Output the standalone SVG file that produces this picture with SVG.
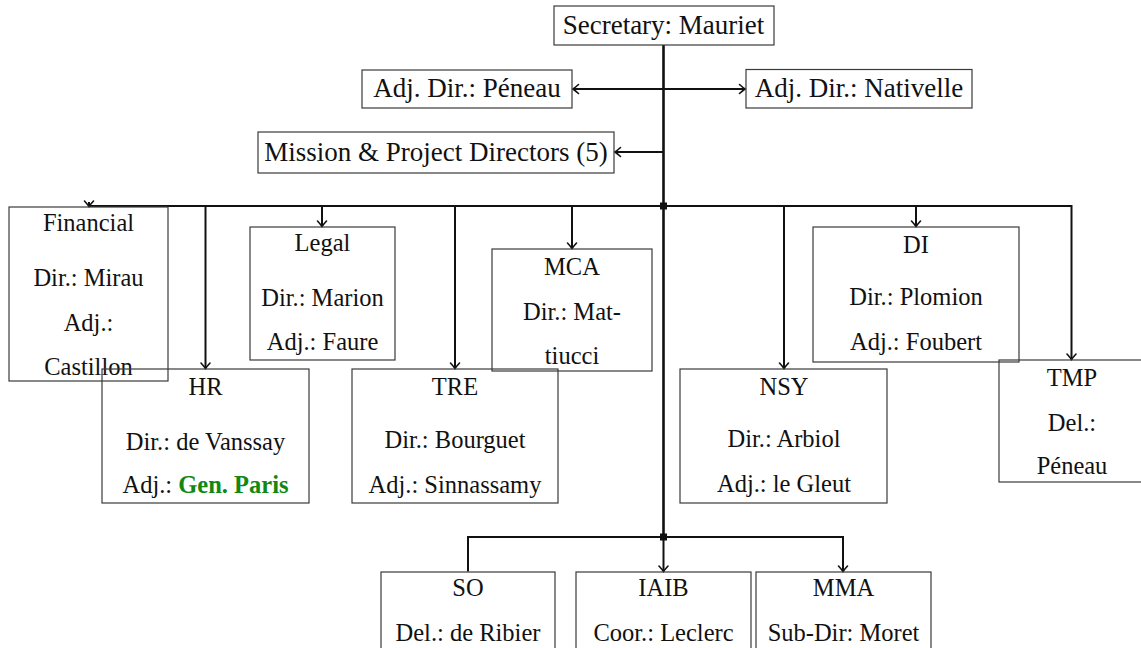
<svg xmlns="http://www.w3.org/2000/svg" width="1141" height="648" viewBox="0 0 1141 648">
  <style>
    .box { fill: none; stroke: #3a3a3a; stroke-width: 1.2; }
    .lbl { font-family: "Liberation Serif", "Times New Roman", serif; font-size: 24.5px; fill: #111; text-anchor: middle; }
    .top { font-size: 27px; }
    .wire { fill: none; stroke: #111; stroke-width: 2; }
    .trunk { fill: none; stroke: #111; stroke-width: 2.6; }
    .hl { fill: #118811; font-weight: bold; }
  </style>
  <defs>
    <marker id="tip" viewBox="-7 -6 9 12" refX="0" refY="0" markerWidth="9" markerHeight="12" markerUnits="userSpaceOnUse" orient="auto-start-reverse">
      <path d="M-5.5,-4.5 Q-1.8,-1.2 0,0 Q-1.8,1.2 -5.5,4.5" fill="none" stroke="#111" stroke-width="1.6" stroke-linecap="round"/>
    </marker>
  </defs>

  <!-- connectors -->
  <g id="connectors">
    <path class="trunk" d="M663.5,45 V537"/>
    <path class="wire" d="M573,89 H745" marker-start="url(#tip)" marker-end="url(#tip)"/>
    <path class="wire" d="M663.5,152 H615" marker-end="url(#tip)"/>
    <path class="wire" d="M89,206 H1071.5 V359.5" marker-end="url(#tip)"/>
    <path class="wire" d="M89,202 V206.5" marker-end="url(#tip)"/>
    <path class="wire" d="M205.5,206 V368.5" marker-end="url(#tip)"/>
    <path class="wire" d="M322,206 V226.5" marker-end="url(#tip)"/>
    <path class="wire" d="M455,206 V368.5" marker-end="url(#tip)"/>
    <path class="wire" d="M572,206 V248.5" marker-end="url(#tip)"/>
    <path class="wire" d="M784,206 V368.5" marker-end="url(#tip)"/>
    <path class="wire" d="M916,206 V226.5" marker-end="url(#tip)"/>
    <path class="wire" d="M468,571.5 V537 H843 V571.5" marker-end="url(#tip)"/>
    <path class="wire" d="M663.5,537 V571.5" marker-end="url(#tip)"/>
    <rect x="660" y="202.5" width="7" height="7" fill="#111"/>
    <rect x="660" y="533.5" width="7" height="7" fill="#111"/>
  </g>

  <g id="secretary">
    <rect class="box" x="554" y="6" width="220" height="39"/>
    <text class="lbl top" x="663.5" y="34">Secretary: Mauriet</text>
  </g>

  <g id="adj-peneau">
    <rect class="box" x="362" y="70" width="210" height="38"/>
    <text class="lbl top" x="467" y="97">Adj. Dir.: Péneau</text>
  </g>

  <g id="adj-nativelle">
    <rect class="box" x="746" y="69.5" width="226" height="38.5"/>
    <text class="lbl top" x="859" y="97">Adj. Dir.: Nativelle</text>
  </g>

  <g id="mission">
    <rect class="box" x="258" y="132" width="356" height="41"/>
    <text class="lbl top" x="436" y="161">Mission &amp; Project Directors (5)</text>
  </g>

  <g id="financial">
    <rect class="box" x="9" y="207" width="159" height="174"/>
    <text class="lbl" x="88.5" y="231">Financial</text>
    <text class="lbl" x="88.5" y="286">Dir.: Mirau</text>
    <text class="lbl" x="88.5" y="331">Adj.:</text>
    <text class="lbl" x="88.5" y="375">Castillon</text>
  </g>

  <g id="legal">
    <rect class="box" x="250" y="227" width="145" height="133"/>
    <text class="lbl" x="322.5" y="251">Legal</text>
    <text class="lbl" x="322.5" y="306">Dir.: Marion</text>
    <text class="lbl" x="322.5" y="350">Adj.: Faure</text>
  </g>

  <g id="mca">
    <rect class="box" x="492" y="249" width="160" height="122"/>
    <text class="lbl" x="572" y="275">MCA</text>
    <text class="lbl" x="572" y="320">Dir.: Mat-</text>
    <text class="lbl" x="572" y="364">tiucci</text>
  </g>

  <g id="di">
    <rect class="box" x="813" y="227" width="206" height="135"/>
    <text class="lbl" x="916" y="253">DI</text>
    <text class="lbl" x="916" y="305">Dir.: Plomion</text>
    <text class="lbl" x="916" y="350">Adj.: Foubert</text>
  </g>

  <g id="hr">
    <rect class="box" x="102" y="369" width="207" height="134"/>
    <text class="lbl" x="205.5" y="395">HR</text>
    <text class="lbl" x="205.5" y="450">Dir.: de Vanssay</text>
    <text class="lbl" x="205.5" y="493">Adj.: <tspan class="hl">Gen. Paris</tspan></text>
  </g>

  <g id="tre">
    <rect class="box" x="352" y="369" width="206" height="134"/>
    <text class="lbl" x="455" y="395">TRE</text>
    <text class="lbl" x="455" y="448">Dir.: Bourguet</text>
    <text class="lbl" x="455" y="493">Adj.: Sinnassamy</text>
  </g>

  <g id="nsy">
    <rect class="box" x="680" y="369" width="207" height="134"/>
    <text class="lbl" x="784" y="395">NSY</text>
    <text class="lbl" x="784" y="447">Dir.: Arbiol</text>
    <text class="lbl" x="784" y="492">Adj.: le Gleut</text>
  </g>

  <g id="tmp">
    <rect class="box" x="999" y="360" width="146" height="122"/>
    <text class="lbl" x="1072" y="386">TMP</text>
    <text class="lbl" x="1072" y="431">Del.:</text>
    <text class="lbl" x="1072" y="474">Péneau</text>
  </g>

  <g id="so">
    <rect class="box" x="381" y="572" width="174" height="90"/>
    <text class="lbl" x="468" y="596">SO</text>
    <text class="lbl" x="468" y="641">Del.: de Ribier</text>
  </g>

  <g id="iaib">
    <rect class="box" x="576" y="572" width="175" height="90"/>
    <text class="lbl" x="663.5" y="596">IAIB</text>
    <text class="lbl" x="663.5" y="641">Coor.: Leclerc</text>
  </g>

  <g id="mma">
    <rect class="box" x="756" y="572" width="175" height="90"/>
    <text class="lbl" x="843.5" y="596">MMA</text>
    <text class="lbl" x="843.5" y="641">Sub-Dir: Moret</text>
  </g>
</svg>
